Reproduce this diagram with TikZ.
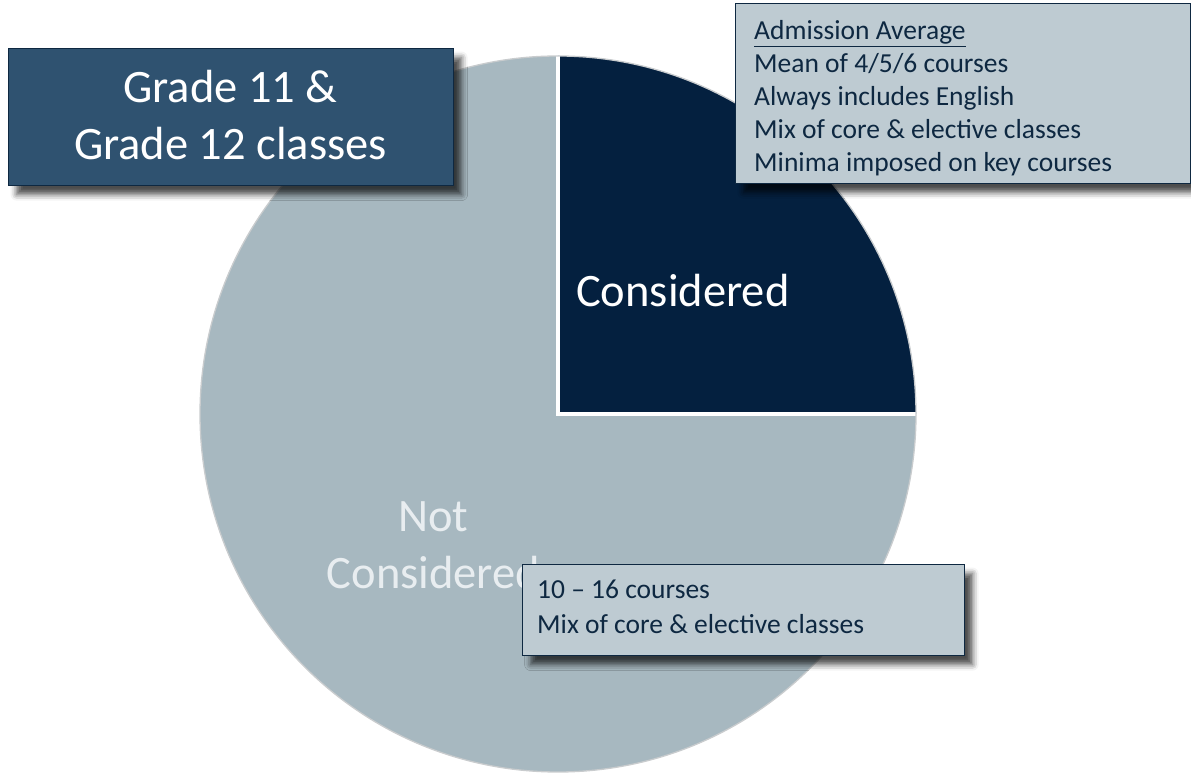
\documentclass[tikz,border=0pt]{standalone}
\usepackage{fontspec}
\setmainfont{Carlito}
\usetikzlibrary{shadows.blur}

\definecolor{restslice}{HTML}{A7B8C0}
\definecolor{keptslice}{HTML}{04203F}
\definecolor{titlefill}{HTML}{2F5270}
\definecolor{notefill}{HTML}{BECBD2}
\definecolor{edgenavy}{HTML}{0E2841}
\definecolor{inknavy}{HTML}{0E2841}
\definecolor{palelabel}{HTML}{E8EDF0}
\definecolor{rimgray}{HTML}{C9CCCE}

\begin{document}
\begin{tikzpicture}[x=1pt,y=1pt,
  panel/.style={rectangle, draw=edgenavy, line width=1.2pt, inner sep=0pt,
    anchor=north west,
    blur shadow={shadow xshift=8pt, shadow yshift=-9pt,
                 shadow blur radius=6pt, shadow opacity=70}},
  titlebox/.style={panel, fill=titlefill},
  notebox/.style={panel, fill=notefill},
  titletext/.style={anchor=base, inner sep=0pt, text=white,
    font=\fontsize{46.5}{57}\selectfont},
  slicetext/.style={anchor=base, inner sep=0pt,
    font=\fontsize{46.5}{57}\selectfont},
  notetext/.style={anchor=base west, inner sep=0pt, text=inknavy,
    font=\fontsize{27.5}{33}\selectfont}
]
\useasboundingbox (0,0) rectangle (1191,776);

% pie: three quarters not considered, one quarter considered
\coordinate (c) at (558,362);
\coordinate (top) at (558,720);
\coordinate (right) at (916,362);
\fill[restslice] (c) circle[radius=358pt];
\fill[keptslice] (c) -- (top) arc[start angle=90, end angle=0, radius=358pt] -- cycle;
\draw[white, line width=3.5pt] (top) -- (c) -- (right);
\draw[rimgray, line width=1.3pt] (c) circle[radius=358pt];

% slice labels
\node[slicetext, text=white, anchor=base west] (kept) at (576,469) {Considered};
\node[slicetext, text=palelabel] (rest1) at (433.5,244) {Not};
\node[slicetext, text=palelabel] (rest2) at (433.5,187) {Considered};

% title panel
\node[titlebox, minimum width=445pt, minimum height=137pt] (title) at (8,728) {};
\node[titletext] (title1) at (230.5,673) {Grade 11 \&};
\node[titletext] (title2) at (230.5,616) {Grade 12 classes};

% admission average note
\node[notebox, minimum width=455pt, minimum height=180pt] (adm) at (735,773) {};
\node[notetext] (adm1) at (754,736) {\underline{Admission Average}};
\node[notetext] (adm2) at (754,703) {Mean of 4/5/6 courses};
\node[notetext] (adm3) at (754,670) {Always includes English};
\node[notetext] (adm4) at (754,637) {Mix of core \& elective classes};
\node[notetext] (adm5) at (754,604) {Minima imposed on key courses};

% course load note
\node[notebox, minimum width=442pt, minimum height=91pt] (load) at (522,212) {};
\node[notetext] (load1) at (537,177) {10 – 16 courses};
\node[notetext] (load2) at (537,142) {Mix of core \& elective classes};
\end{tikzpicture}
\end{document}
